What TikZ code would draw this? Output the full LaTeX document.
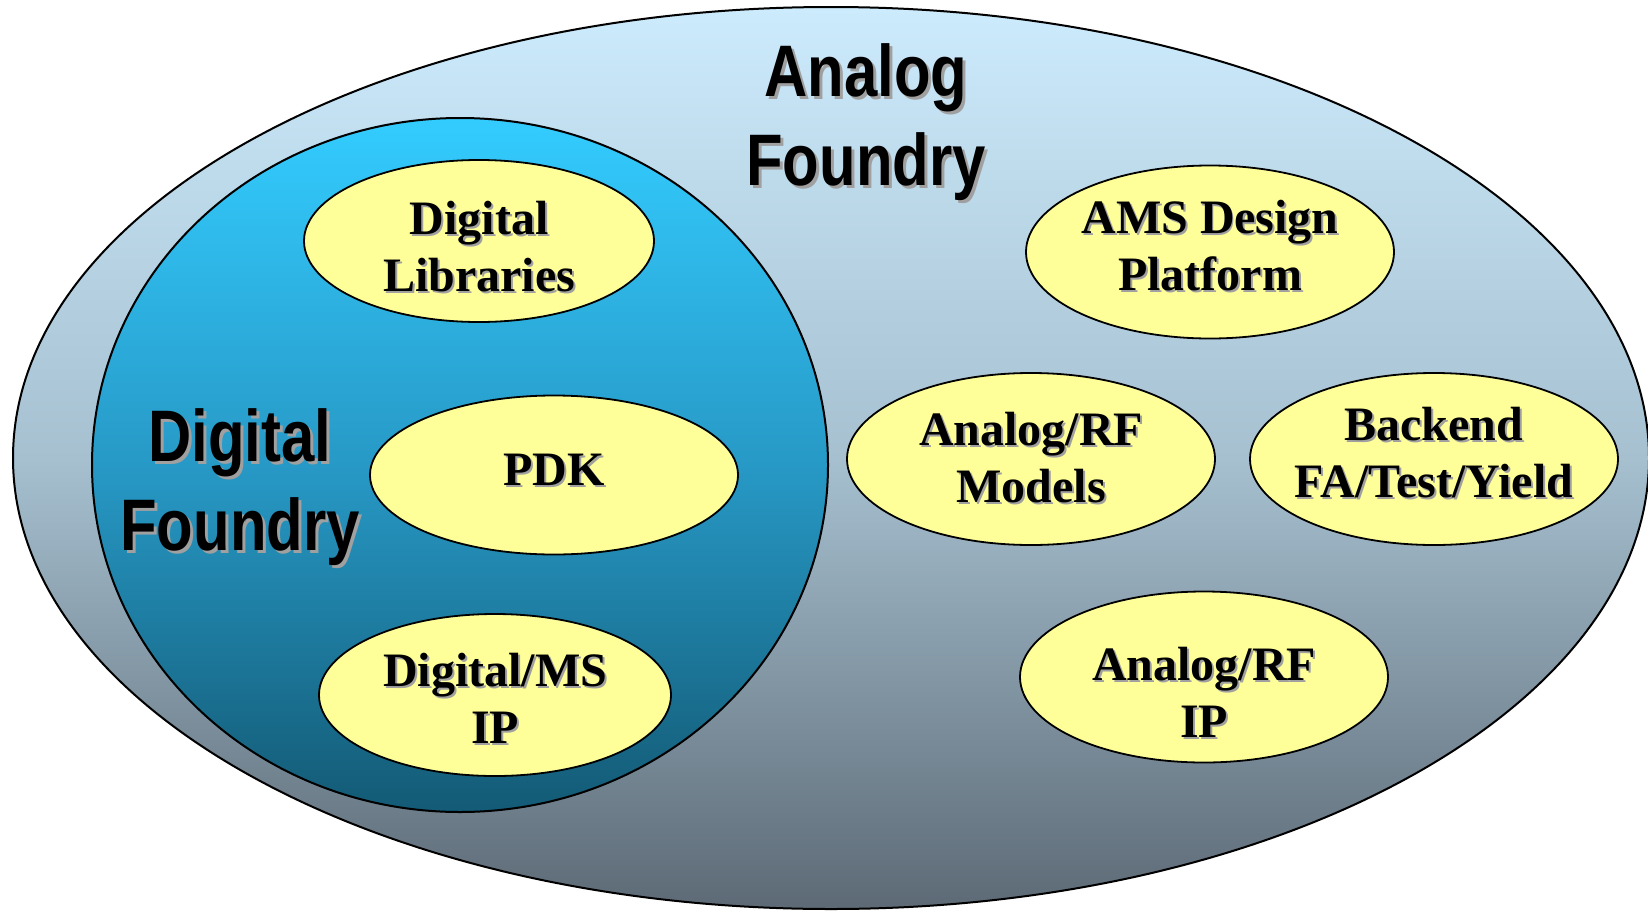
\documentclass[tikz,border=0pt]{standalone}
\usepackage{fontspec}
\usetikzlibrary{shapes.geometric}
\newfontfamily\titlefont[FakeStretch=0.82]{Liberation Sans}
\newfontfamily\podfont{Liberation Serif}
\definecolor{outerTop}{HTML}{CCEBFC}
\definecolor{outerMid}{HTML}{A6C0D0}
\definecolor{outerBot}{HTML}{5D6A76}
\definecolor{innerTop}{HTML}{33CCFF}
\definecolor{innerMid}{HTML}{2799C6}
\definecolor{innerBot}{HTML}{135A75}
\definecolor{podyellow}{HTML}{FFFF99}
\definecolor{shadowgray}{HTML}{A0A0A0}
\newcommand\shadowed[3]{\leavevmode\rlap{\kern#1\raisebox{-#1}{\color{#2}\begin{tabular}{@{}c@{}}#3\end{tabular}}}\begin{tabular}{@{}c@{}}#3\end{tabular}}
\tikzset{
  title/.style={font=\titlefont\bfseries\fontsize{73}{89}\selectfont, inner sep=0pt},
  podtext/.style={font=\podfont\bfseries\fontsize{48}{57}\selectfont, inner sep=0pt},
  pod/.style={ellipse, draw=black, line width=1.8pt, fill=podyellow, inner sep=0pt},
  region/.style={ellipse, draw=black, line width=2pt, inner sep=0pt}
}
\begin{document}
\begin{tikzpicture}[x=1pt,y=-1pt]
\useasboundingbox (0,0) rectangle (1648,910);
\fill[white] (0,0) rectangle (1648,910);
% outer region
\node[region, minimum width=1636pt, minimum height=902pt,
  top color=outerTop, bottom color=outerBot, middle color=outerMid] (analog) at (831,458) {};
% inner region
\node[region, minimum width=736pt, minimum height=694pt,
  top color=innerTop, bottom color=innerBot, middle color=innerMid] (digital) at (460,465) {};
% titles
\node[title] (analogT) at (866,125) {\shadowed{3pt}{shadowgray}{Analog\\Foundry}};
\node[title] (digitalT) at (240,490) {\shadowed{3pt}{shadowgray}{Digital\\Foundry}};
% pods
\node[pod, minimum width=350pt, minimum height=162pt] (dl) at (479,241) {};
\node[pod, minimum width=368pt, minimum height=159pt] (pdk) at (554,475) {};
\node[pod, minimum width=352pt, minimum height=162pt] (dms) at (495,695) {};
\node[pod, minimum width=368pt, minimum height=173pt] (ams) at (1210,252) {};
\node[pod, minimum width=368pt, minimum height=172pt] (arm) at (1031,459) {};
\node[pod, minimum width=368pt, minimum height=172pt] (be) at (1434,459) {};
\node[pod, minimum width=368pt, minimum height=171pt] (arip) at (1204,677) {};
% pod texts
\node[podtext] (dlT) at ([yshift=-12pt]dl.center) {\shadowed{2pt}{shadowgray}{Digital\\Libraries}};
\node[podtext] (pdkT) at (pdk) {\shadowed{2pt}{shadowgray}{PDK}};
\node[podtext] (dmsT) at ([yshift=-10pt]dms.center) {\shadowed{2pt}{shadowgray}{Digital/MS\\IP}};
\node[podtext] (amsT) at (ams) {\shadowed{2pt}{shadowgray}{AMS Design\\Platform}};
\node[podtext] (armT) at ([yshift=-5pt]arm.center) {\shadowed{2pt}{shadowgray}{Analog/RF\\Models}};
\node[podtext] (beT) at (be) {\shadowed{2pt}{shadowgray}{Backend\\FA/Test/Yield}};
\node[podtext] (aripT) at ([yshift=-22pt]arip.center) {\shadowed{2pt}{shadowgray}{Analog/RF\\IP}};
\end{tikzpicture}
\end{document}
